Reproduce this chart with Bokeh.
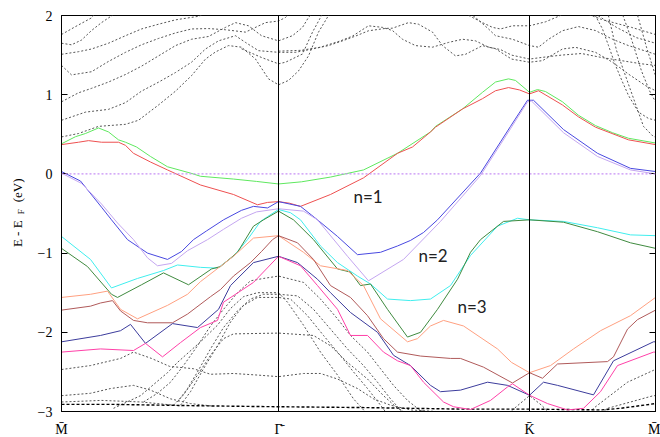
from math import pi
from bokeh.plotting import figure
from bokeh.layouts import row
from bokeh.models import Range1d, FixedTicker, LinearAxis, Span
from bokeh.core.properties import value
from bokeh.embed import file_html
from bokeh.resources import INLINE

# k-path positions (arb. units proportional to path length): M, Gamma, K, M
k_ticks = [0, 217, 468, 594]
k_labels = ["M\u0304", "\u0393\u0304", "K\u0304", "M\u0304"]
e_ticks = [-3, -2, -1, 0, 1, 2]

# ---- coloured surface bands: (k, E-EF) ----
green = [(0,0.38),(14,0.47),(24,0.51),(37,0.58),(47,0.53),(57,0.43),(64,0.40),(75,0.34),(89,0.22),(106,0.09),(129,0.01),(139,-0.03),(172,-0.065),(195,-0.095),(217,-0.127),(240,-0.10),(269,-0.04),(302,0.05),(336,0.26),(369,0.53),(374,0.60),(401,0.82),(421,1.03),(434,1.16),(447,1.20),(454,1.18),(468,1.03),(476,1.065),(484,1.04),(501,0.91),(517,0.74),(534,0.61),(551,0.52),(567,0.45),(594,0.39)]
red = [(0,0.37),(17,0.40),(27,0.42),(40,0.40),(57,0.40),(64,0.36),(72,0.26),(89,0.15),(106,0.05),(139,-0.14),(172,-0.26),(196,-0.39),(206,-0.36),(217,-0.35),(228,-0.37),(239,-0.41),(269,-0.26),(302,-0.05),(336,0.26),(351,0.34),(369,0.53),(374,0.59),(401,0.82),(421,0.95),(434,1.05),(447,1.09),(458,1.06),(468,1.01),(477,1.05),(501,0.87),(517,0.72),(534,0.59),(567,0.43),(594,0.37)]
blue = [(0,0.03),(19,-0.09),(40,-0.42),(50,-0.58),(66,-0.83),(86,-1.0),(106,-1.08),(120,-0.98),(132,-0.83),(145,-0.72),(162,-0.58),(180,-0.46),(192,-0.41),(206,-0.43),(217,-0.35),(239,-0.41),(256,-0.58),(276,-0.79),(296,-1.02),(319,-0.99),(336,-0.91),(349,-0.84),(362,-0.74),(376,-0.58),(419,0.01),(449,0.60),(466,0.93),(472,0.93),(502,0.56),(536,0.26),(569,0.07),(594,0.03)]
lavender = [(0,0.01),(20,-0.12),(40,-0.38),(56,-0.62),(72,-0.83),(86,-1.06),(96,-1.16),(110,-1.13),(126,-0.97),(146,-0.83),(162,-0.70),(180,-0.56),(195,-0.48),(217,-0.44),(242,-0.47),(256,-0.58),(286,-1.04),(307,-1.35),(342,-1.08),(379,-0.60),(419,-0.02),(449,0.57),(466,0.91),(470,0.92),(502,0.52),(536,0.22),(569,0.05),(594,0.0)]
cyan = [(0,-0.79),(29,-1.08),(50,-1.44),(76,-1.32),(102,-1.22),(116,-1.15),(139,-1.18),(156,-1.19),(172,-1.04),(186,-0.83),(199,-0.60),(206,-0.54),(217,-0.45),(229,-0.49),(239,-0.58),(259,-0.91),(276,-1.12),(296,-1.29),(309,-1.39),(326,-1.58),(349,-1.60),(369,-1.58),(389,-1.41),(409,-1.03),(436,-0.66),(456,-0.56),(468,-0.58),(502,-0.60),(536,-0.68),(569,-0.77),(594,-0.78)]
dkgreen = [(0,-0.94),(26,-1.17),(50,-1.52),(56,-1.56),(80,-1.40),(102,-1.25),(127,-1.40),(150,-1.20),(159,-1.17),(176,-0.99),(192,-0.66),(202,-0.58),(217,-0.47),(232,-0.58),(252,-0.83),(276,-1.20),(289,-1.24),(299,-1.41),(309,-1.39),(326,-1.71),(346,-2.06),(359,-2.00),(376,-1.71),(396,-1.33),(409,-0.99),(419,-0.83),(442,-0.60),(468,-0.58),(502,-0.61),(536,-0.73),(569,-0.87),(594,-0.94)]
salmon = [(0,-1.56),(29,-1.52),(46,-1.48),(59,-1.71),(76,-1.83),(106,-1.66),(126,-1.52),(139,-1.36),(172,-1.04),(192,-0.81),(217,-0.78),(242,-0.99),(259,-1.16),(286,-1.22),(302,-1.41),(319,-1.83),(346,-2.12),(356,-2.08),(369,-1.92),(382,-1.85),(402,-1.92),(436,-2.21),(450,-2.38),(468,-2.51),(489,-2.42),(512,-2.21),(539,-1.98),(569,-1.79),(594,-1.56)]
brown = [(0,-1.72),(29,-1.67),(39,-1.63),(51,-1.60),(59,-1.73),(72,-1.85),(86,-1.88),(111,-1.88),(126,-1.77),(149,-1.55),(159,-1.46),(172,-1.29),(189,-1.12),(200,-0.98),(211,-0.83),(217,-0.78),(236,-0.87),(252,-1.08),(269,-1.41),(289,-1.56),(306,-1.79),(322,-2.08),(336,-2.25),(359,-2.30),(389,-2.33),(399,-2.33),(422,-2.44),(451,-2.64),(468,-2.51),(481,-2.58),(496,-2.40),(546,-2.37),(552,-2.31),(566,-1.96),(576,-1.84),(594,-1.72)]
navy = [(0,-2.12),(39,-2.04),(59,-1.98),(69,-1.90),(84,-2.14),(111,-1.89),(136,-1.94),(157,-1.71),(169,-1.41),(192,-1.12),(217,-1.04),(236,-1.12),(256,-1.33),(269,-1.50),(289,-1.75),(316,-2.00),(332,-2.29),(349,-2.42),(369,-2.67),(379,-2.75),(399,-2.73),(426,-2.63),(446,-2.67),(468,-2.795),(482,-2.63),(496,-2.67),(532,-2.79),(552,-2.36),(592,-2.12),(594,-2.12)]
pink = [(0,-2.25),(39,-2.21),(72,-2.23),(84,-2.14),(101,-2.31),(119,-2.13),(139,-1.94),(156,-1.85),(162,-1.62),(192,-1.37),(217,-1.04),(239,-1.16),(256,-1.41),(276,-1.71),(289,-2.04),(306,-2.04),(322,-2.25),(336,-2.36),(349,-2.42),(362,-2.63),(382,-2.88),(392,-2.94),(409,-2.975),(429,-2.86),(446,-2.69),(451,-2.65),(468,-2.795),(486,-2.90),(506,-2.98),(522,-2.96),(539,-2.75),(556,-2.42),(592,-2.25),(594,-2.25)]

# ---- bulk bands (dashed) ----
up_a = [(0,0.467),(17,0.51),(37,0.60),(64,0.626),(77,0.677),(97,0.87),(114,1.045),(130,1.24),(144,1.45),(154,1.54),(167,1.62),(180,1.60),(194,1.45),(207,1.20),(217,1.125),(227,1.18),(237,1.30),(247,1.49),(257,1.79),(267,2.0),(272,2.1)]
up_b = [(0,0.677),(24,0.78),(47,0.815),(64,0.90),(80,1.045),(97,1.158),(114,1.28),(130,1.41),(144,1.577),(157,1.68),(174,1.745),(184,1.66),(197,1.556),(217,1.535),(234,1.535),(254,1.585),(267,1.62),(281,1.68),(294,1.74),(307,1.807),(324,1.837),(331,1.84),(347,1.91),(357,1.89),(371,1.79),(381,1.62),(394,1.49),(404,1.51),(421,1.62),(434,1.58),(450,1.45),(468,1.41),(481,1.43),(501,1.577),(514,1.598),(534,1.535),(551,1.41),(567,1.26),(584,1.115),(594,1.05)]
up_c = [(0,0.91),(17,1.024),(30,1.08),(47,1.16),(64,1.255),(80,1.36),(97,1.49),(114,1.62),(130,1.70),(147,1.735),(164,1.85),(174,1.91),(187,1.87),(200,1.745),(217,1.68),(231,1.745),(241,1.85),(247,1.975),(252,2.05)]
up_d = [(0,1.37),(10,1.25),(30,1.29),(47,1.42),(64,1.535),(80,1.63),(97,1.71),(114,1.78),(130,1.83),(147,1.835),(164,1.82),(184,1.79),(204,1.91),(217,1.93),(224,1.975),(230,2.05)]
up_e = [(0,1.51),(17,1.543),(30,1.577),(47,1.65),(64,1.745),(80,1.83),(97,1.89),(114,1.945),(137,1.99),(150,2.05)]
up_f = [(0,1.65),(10,1.63),(20,1.69),(30,1.81),(40,1.91),(50,1.995),(55,2.05)]
up_g = [(0,1.76),(14,1.86),(30,1.97),(35,2.05)]
up_h = [(180,1.58),(200,1.47),(217,1.39),(224,1.41),(241,1.514),(251,1.79),(259,1.975),(262,2.05)]
up_i = [(217,1.55),(239,1.56),(259,1.60),(279,1.68),(291,1.74),(307,1.87),(321,1.85),(331,1.81),(341,1.70),(354,1.62),(371,1.60),(387,1.66),(401,1.70),(414,1.68),(427,1.60),(439,1.57),(450,1.50),(468,1.45),(480,1.47),(500,1.50),(520,1.52),(540,1.47),(560,1.43),(580,1.39),(594,1.37)]
up_j = [(400,2.05),(411,1.975),(421,1.91),(431,1.85),(439,1.83),(451,1.87),(468,1.87),(484,1.92),(499,2.0),(505,2.05)]
up_k = [(405,2.05),(414,1.975),(427,1.83),(434,1.745),(451,1.70),(468,1.62),(477,1.60),(487,1.70),(501,1.808),(517,1.86),(534,1.81),(551,1.70),(567,1.62),(594,1.51)]
up_l = [(532,2.05),(534,1.995),(541,1.83),(547,1.62),(554,1.37),(561,1.16),(567,0.99),(577,0.78),(587,0.70),(594,0.677)]
up_m = [(546,2.05),(555,1.56),(569,1.06),(582,0.60),(592,0.47),(594,0.467)]
up_n = [(560,2.05),(570,1.7),(580,1.3),(588,1.05),(594,0.91)]
up_o = [(575,2.05),(585,1.6),(594,1.24)]
up_p = [(520,2.05),(540,1.95),(570,1.85),(594,1.76)]
up_q = [(530,2.05),(555,1.85),(575,1.72),(594,1.65)]

lo_1 = [(0,-2.91),(50,-2.91),(100,-2.92),(150,-2.93),(217,-2.94),(300,-2.95),(350,-2.96),(400,-2.97),(468,-2.97),(540,-2.98),(559,-2.96),(594,-2.90)]
lo_2 = [(0,-2.47),(29,-2.42),(59,-2.33),(72,-2.25),(90,-2.33),(108,-2.43),(132,-2.46),(149,-2.53),(172,-2.52),(196,-2.54),(217,-2.56),(242,-2.52),(259,-2.52),(276,-2.59),(296,-2.71),(312,-2.84),(329,-2.92),(349,-2.98),(400,-3.02)]
lo_2r = [(525,-3.05),(532,-2.96),(566,-2.63),(592,-2.48),(594,-2.47)]
lo_3 = [(0,-2.80),(29,-2.77),(49,-2.71),(72,-2.67),(89,-2.73),(109,-2.84),(129,-2.90),(150,-2.93)]
lo_3r = [(540,-3.02),(546,-2.96),(592,-2.80),(594,-2.80)]
lo_4 = [(0,-2.88),(40,-2.86),(80,-2.88),(120,-2.93)]
lo_k = [(444,-3.05),(451,-2.98),(468,-2.80),(480,-2.92),(488,-3.02)]
fan_1 = [(82,-2.88),(96,-2.77),(109,-2.63),(122,-2.42),(136,-2.17),(149,-1.92),(162,-1.71),(176,-1.50),(189,-1.35),(202,-1.32),(217,-1.29),(242,-1.37),(259,-1.58),(276,-1.83),(289,-2.04),(306,-2.25),(319,-2.46),(332,-2.67),(346,-2.86),(356,-2.96),(365,-3.02)]
fan_2 = [(116,-2.88),(126,-2.71),(136,-2.50),(149,-2.21),(162,-1.94),(176,-1.73),(189,-1.58),(202,-1.52),(217,-1.52),(236,-1.54),(252,-1.71),(269,-1.96),(286,-2.21),(302,-2.42),(316,-2.63),(329,-2.84),(339,-2.98),(345,-3.05)]
fan_3 = [(119,-2.92),(129,-2.75),(142,-2.46),(156,-2.17),(169,-1.87),(182,-1.66),(196,-1.56),(217,-1.56),(229,-1.58),(246,-1.79),(262,-2.04),(276,-2.25),(292,-2.50),(306,-2.71),(319,-2.92),(325,-3.02)]
fan_4 = [(112,-2.92),(122,-2.79),(136,-2.54),(149,-2.29),(162,-2.08),(172,-2.02),(217,-2.01),(252,-2.04),(269,-2.17),(286,-2.38),(306,-2.59),(322,-2.80),(336,-2.96),(345,-3.02)]
fan_5 = [(52,-2.96),(79,-2.80),(106,-2.51),(116,-2.38),(139,-2.12),(156,-1.91),(169,-1.70),(182,-1.55),(196,-1.50),(217,-1.50),(226,-1.62),(242,-1.91),(259,-2.25),(276,-2.54),(292,-2.84),(302,-2.98),(306,-3.04)]

n_text = ["n=1", "n=2", "n=3"]
n_k = [292, 357, 396]
n_e = [-0.28, -1.03, -1.675]

# y-axis title pieces (E - E_F (eV)), drawn in a narrow side panel
ylab_text = ["E - E", "F", "(eV)"]
ylab_x = [17, 20, 17]
ylab_y = [-0.60, -0.49, -0.37]
ylab_size = ["13px", "9px", "13px"]
ylab_align = ["right", "center", "left"]

colored = [
    (green, "#5fe85f"), (red, "#ee5050"), (blue, "#4848e0"), (lavender, "#c4a6f0"),
    (cyan, "#40eeee"), (dkgreen, "#3f8a3f"), (salmon, "#ffa080"), (brown, "#b05a5a"),
    (navy, "#3c3c9c"), (pink, "#ff40a8"),
]
dashed = [up_a, up_b, up_c, up_d, up_e, up_f, up_g, up_h, up_i, up_j, up_k, up_l, up_m,
          up_n, up_o, up_p, up_q, lo_2, lo_2r, lo_3, lo_3r, lo_4, lo_k,
          fan_1, fan_2, fan_3, fan_4, fan_5]

serif = "Liberation Serif"
TOP, FRAME_H, BOTTOM = 15, 396, 26

p = figure(frame_width=594, frame_height=FRAME_H, x_range=Range1d(0, 594), y_range=Range1d(-3, 2),
           output_backend="svg", toolbar_location=None,
           min_border_left=31, min_border_right=5, min_border_top=TOP, min_border_bottom=BOTTOM)
p.background_fill_color = "white"
p.border_fill_color = "white"
p.grid.visible = False
p.outline_line_color = "black"
p.outline_line_width = 1
p.outline_line_alpha = 1

p.xaxis.ticker = FixedTicker(ticks=k_ticks)
p.xaxis.major_label_overrides = {t: l for t, l in zip(k_ticks, k_labels)}
p.xaxis.major_tick_line_color = None
p.xaxis.minor_tick_line_color = None
p.xaxis.axis_line_color = "black"
p.xaxis.major_label_standoff = 4
p.xaxis.major_label_text_font = serif
p.xaxis.major_label_text_font_size = "14px"
p.xaxis.major_label_text_color = "black"

p.yaxis.ticker = FixedTicker(ticks=e_ticks)
p.yaxis.major_tick_in = 6
p.yaxis.major_tick_out = 0
p.yaxis.minor_tick_line_color = None
p.yaxis.axis_line_color = "black"
p.yaxis.major_label_standoff = 9
p.yaxis.major_label_text_font = serif
p.yaxis.major_label_text_font_size = "14px"
p.yaxis.major_label_text_color = "black"

right = LinearAxis(ticker=FixedTicker(ticks=e_ticks), major_tick_in=6, major_tick_out=0,
                   minor_tick_line_color=None, major_label_text_font_size="0px",
                   major_label_standoff=0, axis_line_color="black",
                   major_label_overrides={t: "" for t in e_ticks})
p.add_layout(right, "right")

for b in dashed:
    p.line([q[0] for q in b], [q[1] for q in b], line_color="#555555", line_width=1,
           line_dash="2 2")
p.line([q[0] for q in lo_1], [q[1] for q in lo_1], line_color="black", line_width=1.4,
       line_dash="3 2")

p.add_layout(Span(location=0, dimension="width", line_color="#c890f5", line_width=1.3,
                  line_dash="2 2"))
for kt in k_ticks[1:3]:
    p.add_layout(Span(location=kt, dimension="height", line_color="black", line_width=1))

for b, c in colored:
    p.line([q[0] for q in b], [q[1] for q in b], line_color=c, line_width=1)

p.text(x=n_k, y=n_e, text=n_text, text_font=value("Lato"), text_font_size="17px",
       text_color="#222222", text_align="left", text_baseline="middle")

lab = figure(width=30, height=TOP + FRAME_H + BOTTOM, x_range=Range1d(0, 30), y_range=Range1d(-3, 2),
             output_backend="svg", toolbar_location=None,
             min_border_left=0, min_border_right=0, min_border_top=TOP, min_border_bottom=BOTTOM)
lab.axis.visible = False
lab.grid.visible = False
lab.outline_line_color = None
lab.background_fill_color = "white"
lab.border_fill_color = "white"
for t, x, y, s, a in zip(ylab_text, ylab_x, ylab_y, ylab_size, ylab_align):
    lab.text(x=[x], y=[y], text=[t], angle=pi/2, text_font=value(serif),
             text_font_size=s, text_align=a, text_baseline="middle", text_color="black")

layout = row(lab, p, spacing=0)
open("out.html", "w").write(file_html(layout, INLINE))
